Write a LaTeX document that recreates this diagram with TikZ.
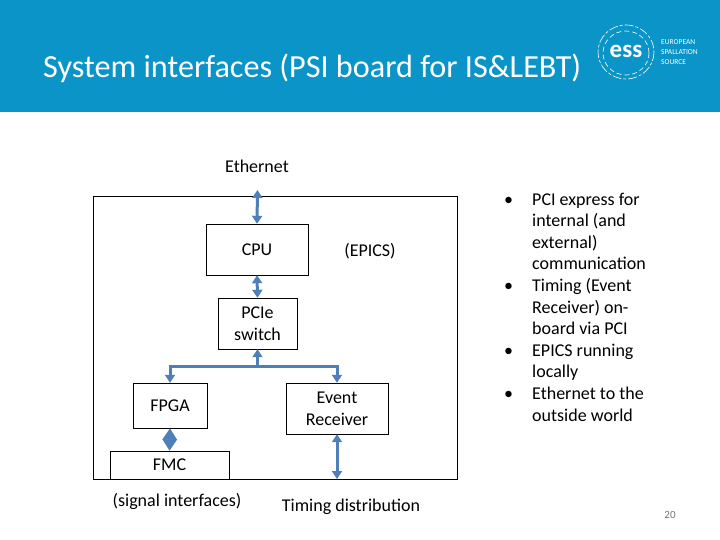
\documentclass[tikz,border=0pt]{standalone}
\usepackage{fontspec}
\setmainfont{Carlito}
\usepackage{tikz}
\usetikzlibrary{arrows.meta,positioning}
\definecolor{essblue}{HTML}{0A94C8}
\definecolor{linkblue}{HTML}{4F7FB8}
\tikzstyle{block} = [rectangle, draw, inner sep=0pt, align=center, font=\fontsize{18}{22}\selectfont]
\tikzstyle{label} = [inner sep=0pt, align=center, font=\fontsize{18}{22}\selectfont]
\tikzstyle{link} = [{Triangle[width=10pt,length=8pt]}-{Triangle[width=10pt,length=8pt]}, line width=3pt, linkblue]
\tikzstyle{fatlink} = [{Triangle[width=14pt,length=11.5pt]}-{Triangle[width=14pt,length=11.5pt]}, line width=3pt, linkblue]
\tikzstyle{uplink} = [-{Triangle[width=10pt,length=8pt]}, line width=3pt, linkblue]
\tikzstyle{ring} = [draw=white, line width=0.6pt]

\begin{document}
\begin{tikzpicture}[x=1pt, y=-1pt]
    \useasboundingbox (0,0) rectangle (720,540);
    \fill [essblue] (0,0) rectangle (720,112);
    \node [anchor=west, inner sep=0pt, text=white, font=\fontsize{32.2}{34}\selectfont] (title) at (43,68) {System interfaces (PSI board for IS\&LEBT)};

    % logo
    \draw [ring, dash pattern=on 9pt off 2pt on 3pt off 2pt] (626,52) ellipse (28 and 27);
    \draw [ring, dash pattern=on 5pt off 3pt] (626,53) ellipse (23 and 22);
    \node [inner sep=0pt, text=white, font=\bfseries\fontsize{25}{25}\selectfont] (logo) at (626,51) {ess};
    \node [anchor=west, inner sep=0pt, align=left, text=white, font=\fontsize{7.5}{10}\selectfont] (logotext) at (661,52) {EUROPEAN\\SPALLATION\\SOURCE};

    % outer frame
    \node [draw, minimum width=364pt, minimum height=283pt, inner sep=0pt, anchor=north west] (board) at (93,196) {};

    \node [label] (ethernet) at (257,166) {Ethernet};
    \node [block, minimum width=102pt, minimum height=51pt] (cpu) at (257,249.5) {CPU};
    \node [label] (epics) at (370,251) {(EPICS)};
    \node [block, minimum width=79pt, minimum height=51pt] (switch) at (257.5,323.5) {PCIe\\switch};
    \node [block, minimum width=74pt, minimum height=45pt] (fpga) at (170,405.5) {FPGA};
    \node [block, minimum width=102pt, minimum height=51pt] (evr) at (337,408.5) {Event\\Receiver};
    \node [block, minimum width=119pt, minimum height=28pt] (fmc) at (169.5,465) {FMC};
    \node [label] (signals) at (177,501) {(signal interfaces)};
    \node [label] (timing) at (351,507) {Timing distribution};

    \coordinate (ethtop) at (257.5,190);
    \coordinate (timend) at (337,479);
    \coordinate (bus) at (257.5,366);

    \draw [link] (ethtop) -- (cpu.north);
    \draw [link] (cpu.south) -- (switch.north);
    \draw [fatlink] (fpga.south) -- (fmc.north);
    \draw [link] (evr.south) -- (timend);
    \draw [uplink] (bus) -- (switch.south);
    \draw [uplink] (bus) -| (fpga.north);
    \draw [uplink] (bus) -| (evr.north);

    % bullet list
    \node [anchor=north west, inner sep=0pt, align=left, font=\fontsize{18}{21.6}\selectfont] (points) at (532,192.5) {%
      \llap{•\hspace{19pt}}PCI express for\\
      internal (and\\
      external)\\
      communication\\
      \llap{•\hspace{19pt}}Timing (Event\\
      Receiver) on-\\
      board via PCI\\
      \llap{•\hspace{19pt}}EPICS running\\
      locally\\
      \llap{•\hspace{19pt}}Ethernet to the\\
      outside world};

    \node [inner sep=0pt, text=black!55, font=\fontsize{11}{13}\selectfont] (pagenum) at (670,515) {20};
\end{tikzpicture}
\end{document}
